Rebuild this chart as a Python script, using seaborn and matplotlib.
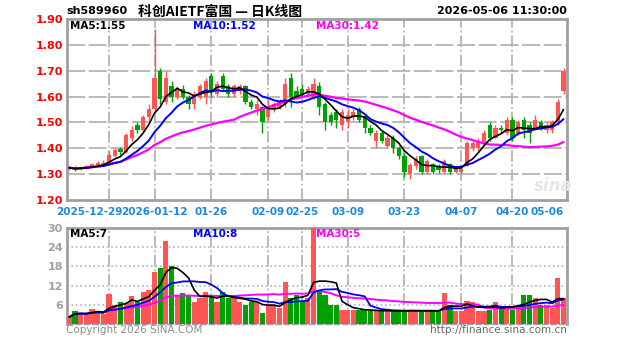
import numpy as np
import pandas as pd
import matplotlib
matplotlib.use("Agg")
import matplotlib.pyplot as plt
import seaborn as sns

# --- data (daily K line, 2025-12-18 .. 2026-05-06) ---
opens = [1.320, 1.325, 1.318, 1.322, 1.328, 1.335, 1.340, 1.345, 1.370, 1.398,
         1.385, 1.440, 1.490, 1.470, 1.520, 1.550, 1.700, 1.580, 1.640, 1.600,
         1.630, 1.600, 1.570, 1.600, 1.600, 1.680, 1.610, 1.680, 1.640, 1.610,
         1.620, 1.640, 1.580, 1.550, 1.560, 1.520, 1.550, 1.560, 1.570, 1.670,
         1.620, 1.630, 1.610, 1.600, 1.640, 1.570, 1.530, 1.540, 1.490, 1.500,
         1.520, 1.550, 1.520, 1.480, 1.430, 1.460, 1.410, 1.440, 1.400, 1.370,
         1.300, 1.330, 1.370, 1.310, 1.340, 1.330, 1.310, 1.340, 1.310, 1.310,
         1.330, 1.400, 1.400, 1.420, 1.490, 1.440, 1.480, 1.460, 1.510, 1.460,
         1.510, 1.490, 1.470, 1.500, 1.470, 1.470, 1.500, 1.620]
closes = [1.325, 1.318, 1.325, 1.330, 1.338, 1.342, 1.345, 1.375, 1.392, 1.385,
          1.450, 1.470, 1.470, 1.520, 1.550, 1.670, 1.590, 1.670, 1.600, 1.630,
          1.600, 1.570, 1.610, 1.640, 1.660, 1.620, 1.650, 1.630, 1.610, 1.640,
          1.640, 1.580, 1.560, 1.570, 1.500, 1.560, 1.570, 1.580, 1.650, 1.600,
          1.600, 1.610, 1.630, 1.650, 1.560, 1.500, 1.500, 1.510, 1.540, 1.530,
          1.540, 1.510, 1.480, 1.460, 1.460, 1.430, 1.440, 1.400, 1.370, 1.310,
          1.335, 1.360, 1.310, 1.350, 1.310, 1.315, 1.350, 1.310, 1.325, 1.320,
          1.420, 1.420, 1.430, 1.460, 1.440, 1.480, 1.470, 1.510, 1.440, 1.500,
          1.470, 1.460, 1.510, 1.480, 1.490, 1.500, 1.580, 1.700]
highs = [1.330, 1.330, 1.330, 1.335, 1.345, 1.350, 1.355, 1.390, 1.400, 1.405,
         1.460, 1.485, 1.500, 1.530, 1.570, 1.860, 1.710, 1.700, 1.660, 1.640,
         1.645, 1.605, 1.620, 1.650, 1.670, 1.690, 1.660, 1.690, 1.650, 1.650,
         1.650, 1.645, 1.590, 1.585, 1.565, 1.585, 1.580, 1.590, 1.670, 1.690,
         1.640, 1.650, 1.640, 1.670, 1.655, 1.580, 1.540, 1.550, 1.550, 1.550,
         1.550, 1.560, 1.530, 1.490, 1.470, 1.470, 1.450, 1.450, 1.410, 1.380,
         1.345, 1.370, 1.375, 1.360, 1.345, 1.340, 1.360, 1.345, 1.330, 1.330,
         1.430, 1.430, 1.440, 1.470, 1.500, 1.490, 1.490, 1.520, 1.520, 1.510,
         1.520, 1.500, 1.530, 1.510, 1.500, 1.510, 1.590, 1.710]
lows = [1.315, 1.312, 1.315, 1.318, 1.325, 1.330, 1.335, 1.340, 1.365, 1.375,
        1.380, 1.430, 1.460, 1.465, 1.510, 1.545, 1.570, 1.570, 1.580, 1.590,
        1.590, 1.550, 1.550, 1.590, 1.570, 1.600, 1.600, 1.620, 1.600, 1.600,
        1.610, 1.570, 1.550, 1.530, 1.460, 1.510, 1.540, 1.550, 1.560, 1.560,
        1.590, 1.600, 1.600, 1.590, 1.530, 1.470, 1.490, 1.480, 1.470, 1.480,
        1.510, 1.500, 1.460, 1.450, 1.400, 1.420, 1.400, 1.380, 1.360, 1.290,
        1.280, 1.320, 1.300, 1.300, 1.300, 1.305, 1.305, 1.300, 1.305, 1.300,
        1.330, 1.390, 1.390, 1.410, 1.430, 1.440, 1.460, 1.450, 1.430, 1.450,
        1.440, 1.420, 1.470, 1.470, 1.460, 1.460, 1.490, 1.610]
volumes = [2.2, 4.1, 3.5, 3.1, 4.7, 4.0, 3.2, 9.5, 6.0, 7.0,
           6.5, 8.7, 7.0, 10.0, 10.5, 16.4, 17.4, 26.0, 18.0, 9.2,
           9.8, 9.0, 7.0, 8.0, 10.0, 8.5, 7.0, 10.0, 8.0, 8.0,
           7.0, 6.0, 7.0, 7.0, 3.5, 6.0, 6.0, 5.0, 13.0, 8.0,
           9.0, 7.0, 8.0, 33.0, 10.0, 9.0, 6.0, 6.0, 4.5, 4.5,
           4.5, 4.4, 4.4, 4.0, 4.0, 4.0, 4.4, 4.0, 4.0, 4.0,
           4.4, 4.4, 4.0, 4.0, 4.0, 4.0, 9.8, 6.0, 4.0, 4.0,
           7.3, 7.0, 4.0, 4.0, 4.4, 7.0, 5.5, 5.5, 4.4, 6.0,
           9.2, 9.2, 8.0, 6.0, 6.0, 5.0, 14.5, 8.2]

tick_pos = [7, 15, 25, 35, 41, 49, 59, 69, 78, 87]
tick_labels = ["2025-12-29", "2026-01-12", "01-26", "02-09", "02-25",
               "03-09", "03-23", "04-07", "04-20", "05-06"]

price_ticks = [1.20, 1.30, 1.40, 1.50, 1.60, 1.70, 1.80, 1.90]
vol_ticks = [6, 12, 18, 24, 30]

code_text = "sh589960"
title_text = "科创AIETF富国 — 日K线图"
time_text = "2026-05-06 11:30:00"
ma_price_labels = ["MA5:1.55", "MA10:1.52", "MA30:1.42"]
ma_vol_labels = ["MA5:7", "MA10:8", "MA30:5"]

# --- styling ---
sns.set_theme(style="white")
plt.rcParams["font.family"] = ["Noto Sans CJK SC", "DejaVu Sans"]

RED = "#FF5555"
GREEN = "#00A000"
GRID = "#B4B4B4"
DATE_BLUE = "#1E88E0"
MA_COLORS = ["#000000", "#0000FF", "#FF00FF"]
W, H = 627, 342

df = pd.DataFrame({"open": opens, "close": closes, "high": highs,
                   "low": lows, "vol": volumes})
df["idx"] = np.arange(len(df))
df["up"] = df["close"] >= df["open"]
for n in (5, 10, 30):
    df[f"ma{n}"] = df["close"].rolling(n, min_periods=1).mean()
    df[f"vma{n}"] = df["vol"].rolling(n, min_periods=1).mean()

fig = plt.figure(figsize=(W / 100, H / 100), dpi=100)
fig.patch.set_facecolor("white")


def px_axes(x0, y0, x1, y1):
    return fig.add_axes([x0 / W, 1 - y1 / H, (x1 - x0) / W, (y1 - y0) / H])


ax = px_axes(67, 19, 567, 200)
axv = px_axes(67, 228, 567, 324)

xlim = (-0.4, len(df) - 0.4)

# --- price panel: candles + moving averages ---
colors = np.where(df["up"], RED, GREEN)
ax.vlines(df["idx"], df["low"], df["high"], colors=colors, linewidth=1, zorder=3)
body_bottom = np.minimum(df["open"], df["close"])
body_h = np.maximum(np.abs(df["close"] - df["open"]), 0.003)
ax.bar(df["idx"], body_h, bottom=body_bottom, width=0.75, color=colors,
       linewidth=0, zorder=3)
sns.lineplot(data=df, x="idx", y="ma30", color=MA_COLORS[2], linewidth=1.6, ax=ax, zorder=4)
sns.lineplot(data=df, x="idx", y="ma10", color=MA_COLORS[1], linewidth=1.4, ax=ax, zorder=5)
sns.lineplot(data=df, x="idx", y="ma5", color=MA_COLORS[0], linewidth=1.2, ax=ax, zorder=6)

ax.set_xlim(*xlim)
ax.set_ylim(1.20, 1.90)
ax.set_yticks(price_ticks)
ax.set_yticklabels([f"{t:.2f}" for t in price_ticks], color="#FF0000",
                   fontsize=8, fontweight="bold", family="DejaVu Sans")
ax.set_xticks([])
ax.tick_params(length=0, pad=3)
ax.set_xlabel("")
ax.set_ylabel("")
for t in price_ticks[1:-1]:
    ax.axhline(t, color=GRID, linewidth=1.3, linestyle=(0, (10, 2)), zorder=1)
for p in tick_pos[:-1]:
    ax.axvline(p, color=GRID, linewidth=1.3, linestyle="-.", zorder=1)
for s in ax.spines.values():
    s.set_color("#A0A0A0")
    s.set_linewidth(2)

# date labels under the price panel (first one pushed left so it doesn't collide)
for p, lab in zip(tick_pos, tick_labels):
    ha, dx = "center", 0
    if lab == tick_labels[0]:
        ha, dx = "right", 2.3
    elif lab == tick_labels[-1]:
        ha = "right"
    ax.text(p + dx, -0.04, lab, transform=ax.get_xaxis_transform(), ha=ha,
            va="top", color=DATE_BLUE, fontsize=7.5, fontweight="bold",
            family="DejaVu Sans")

for x0, lab, c in zip((70, 193, 316), ma_price_labels, MA_COLORS):
    fig.text(x0 / W, 1 - 26 / H, lab, color=c, fontsize=7.5, fontweight="bold",
             va="center", ha="left", family="DejaVu Sans")

fig.text(553 / W, 1 - 186 / H, "sina", color="#E6E6E6", fontsize=12,
         fontweight="bold", style="italic", ha="center", va="center",
         family="DejaVu Sans")

# --- volume panel ---
axv.bar(df["idx"], df["vol"], width=0.9, color=colors, linewidth=0, zorder=3)
sns.lineplot(data=df, x="idx", y="vma30", color=MA_COLORS[2], linewidth=1.4, ax=axv, zorder=4)
sns.lineplot(data=df, x="idx", y="vma10", color=MA_COLORS[1], linewidth=1.3, ax=axv, zorder=5)
sns.lineplot(data=df, x="idx", y="vma5", color=MA_COLORS[0], linewidth=1.2, ax=axv, zorder=6)
axv.set_xlim(*xlim)
axv.set_ylim(0, 30)
axv.set_yticks(vol_ticks)
axv.set_yticklabels([str(t) for t in vol_ticks], color="#A0A0A0", fontsize=8,
                    fontweight="bold", family="DejaVu Sans")
axv.set_xticks([])
axv.tick_params(length=0, pad=3)
axv.set_xlabel("")
axv.set_ylabel("")
for t in vol_ticks[:-1]:
    axv.axhline(t, color=GRID, linewidth=1.2, linestyle=":", zorder=1)
for p in tick_pos[:-1]:
    axv.axvline(p, color=GRID, linewidth=1.3, linestyle="-.", zorder=1)
for name, s in axv.spines.items():
    s.set_color("#A0A0A0")
    s.set_linewidth(2)
axv.spines["bottom"].set_linestyle((0, (4, 2)))
axv.spines["bottom"].set_linewidth(1)

for x0, lab, c in zip((70, 193, 316), ma_vol_labels, MA_COLORS):
    fig.text(x0 / W, 1 - 234 / H, lab, color=c, fontsize=7.5, fontweight="bold",
             va="center", ha="left", family="DejaVu Sans")

# --- header / footer text ---
fig.text(66 / W, 1 - 11 / H, code_text, color="black", fontsize=8,
         fontweight="bold", va="center", ha="left", family="DejaVu Sans")
fig.text(220 / W, 1 - 12 / H, title_text, color="black", fontsize=10,
         fontweight="bold", va="center", ha="center")
fig.text(567 / W, 1 - 11 / H, time_text, color="black", fontsize=8,
         fontweight="bold", va="center", ha="right", family="DejaVu Sans")
fig.text(66 / W, 1 - 330 / H, "Copyright 2026 SINA.COM", color="#8C8C8C",
         fontsize=7.5, va="center", ha="left", family="DejaVu Sans")
fig.text(567 / W, 1 - 330 / H, "http://finance.sina.com.cn", color="#666666",
         fontsize=7.5, va="center", ha="right", family="DejaVu Sans")

fig.savefig("out.png", dpi=100, facecolor="white")
